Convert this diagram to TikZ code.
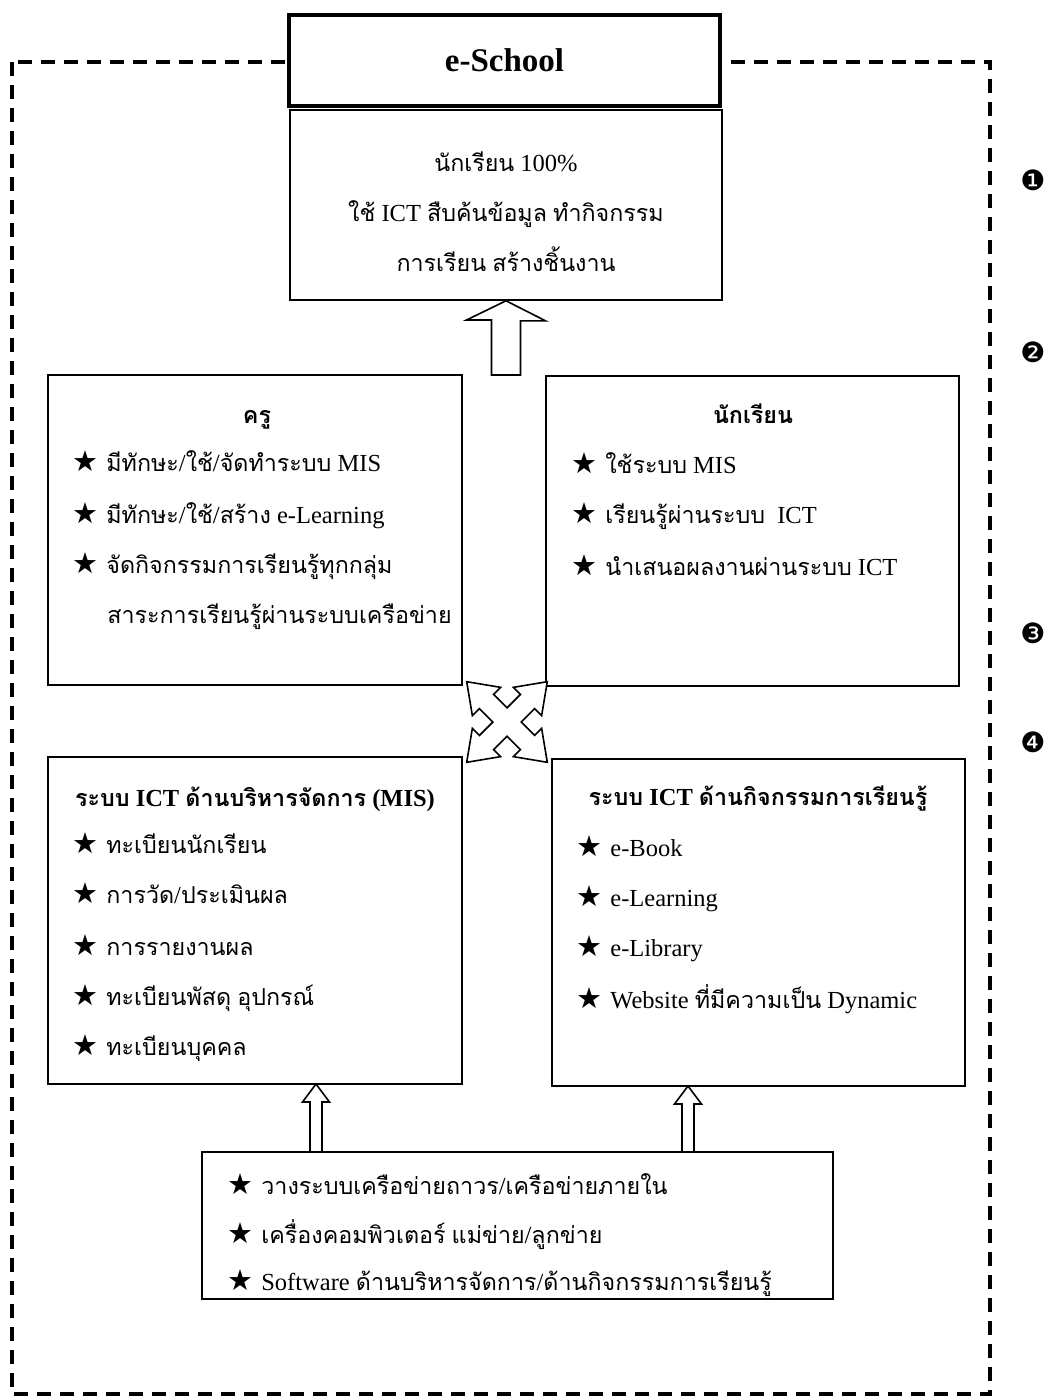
\documentclass[tikz,border=0pt]{standalone}
\usepackage{fontspec}
\setmainfont{Liberation Serif}
\newfontfamily\thaifont[Script=Thai,Scale=0.95]{Loma}
\newfontfamily\symfont{DejaVu Sans}
% Thai letters switch to the Thai family by themselves
\XeTeXinterchartokenstate=1
\newXeTeXintercharclass\thaiclass
\count255="0E00
\loop\ifnum\count255<"0E80
  \XeTeXcharclass\count255=\thaiclass
  \advance\count255 by 1
\repeat
\XeTeXinterchartoks 0 \thaiclass = {\begingroup\thaifont}
\XeTeXinterchartoks 4095 \thaiclass = {\begingroup\thaifont}
\XeTeXinterchartoks \thaiclass 0 = {\endgroup}
\XeTeXinterchartoks \thaiclass 4095 = {\endgroup}
\newcommand{\bstar}{{\symfont\fontsize{29}{30}\selectfont ★}\hspace{8pt}}
\usetikzlibrary{calc}

\tikzset{every picture/.style={line width=0.75pt}}
\tikzset{
  panel/.style={draw, line width=1.6pt, inner sep=0pt},
  hollow/.style={draw, fill=white, line width=1.6pt, line join=miter},
  frame/.style={line width=3.5pt, dash pattern=on 14pt off 9pt},
  title/.style={anchor=base, inner sep=0pt, font=\fontsize{24.5}{30}\selectfont\bfseries},
  line/.style={anchor=base, inner sep=0pt},
  item/.style={anchor=base west, inner sep=0pt},
  num/.style={inner sep=0pt, font=\symfont\fontsize{28}{28}\selectfont}
}

\begin{document}
\begin{tikzpicture}[x=1pt,y=1pt,yscale=-1,xscale=1,font=\fontsize{24.5}{30}\selectfont]
    \useasboundingbox (0,0) rectangle (1048,1398);
    % outer dashed frame
    \draw [frame] (12,62) rectangle (990,1394);
    \node [panel, line width=4.5pt, fill=white, minimum width=431, minimum height=91, font=\bfseries\fontsize{33}{33}\selectfont] (school) at (504.5,60.5) {e-School};
    % boxes
    \node [panel, minimum width=432, minimum height=190] (goal) at (506,205) {};
    \node [panel, minimum width=414, minimum height=310] (teacher) at (255,530) {};
    \node [panel, minimum width=413, minimum height=310] (student) at (752.5,531) {};
    \node [panel, minimum width=414, minimum height=327] (mis) at (255,920.5) {};
    \node [panel, minimum width=413, minimum height=327] (learn) at (758.5,922.5) {};
    \node [panel, minimum width=631, minimum height=147] (infra) at (517.5,1225.5) {};
    % goal
    \draw (506,171) node [line] (goal1) {นักเรียน 100\%};
    \draw (506,221) node [line] (goal2) {ใช้ ICT สืบค้นข้อมูล ทำกิจกรรม};
    \draw (506,271) node [line] (goal3) {การเรียน สร้างชิ้นงาน};
    % teacher
    \draw (257,423) node [title] (teacher0) {ครู};
    \draw (72,471) node [item] (teacher1) {\bstar มีทักษะ/ใช้/จัดทำระบบ MIS};
    \draw (72,523) node [item] (teacher2) {\bstar มีทักษะ/ใช้/สร้าง e-Learning};
    \draw (72,573) node [item] (teacher3) {\bstar จัดกิจกรรมการเรียนรู้ทุกกลุ่ม};
    \draw (107,623) node [item] (teacher4) {สาระการเรียนรู้ผ่านระบบเครือข่าย};
    % student
    \draw (753,423) node [title] (student0) {นักเรียน};
    \draw (571,473) node [item] (student1) {\bstar ใช้ระบบ MIS};
    \draw (571,523) node [item] (student2) {\bstar เรียนรู้ผ่านระบบ \ ICT};
    \draw (571,575) node [item] (student3) {\bstar นำเสนอผลงานผ่านระบบ ICT};
    % mis
    \draw (255,806) node [title] (mis0) {ระบบ ICT ด้านบริหารจัดการ (MIS)};
    \draw (72,853) node [item] (mis1) {\bstar ทะเบียนนักเรียน};
    \draw (72,903) node [item] (mis2) {\bstar การวัด/ประเมินผล};
    \draw (72,955) node [item] (mis3) {\bstar การรายงานผล};
    \draw (72,1005) node [item] (mis4) {\bstar ทะเบียนพัสดุ อุปกรณ์};
    \draw (72,1055) node [item] (mis5) {\bstar ทะเบียนบุคคล};
    % learning
    \draw (758,805) node [title] (learn0) {ระบบ ICT ด้านกิจกรรมการเรียนรู้};
    \draw (576,856) node [item] (learn1) {\bstar e-Book};
    \draw (576,906) node [item] (learn2) {\bstar e-Learning};
    \draw (576,956) node [item] (learn3) {\bstar e-Library};
    \draw (576,1008) node [item] (learn4) {\bstar Website ที่มีความเป็น Dynamic};
    % infrastructure
    \draw (227,1194) node [item] (infra1) {\bstar วางระบบเครือข่ายถาวร/เครือข่ายภายใน};
    \draw (227,1243) node [item] (infra2) {\bstar เครื่องคอมพิวเตอร์ แม่ข่าย/ลูกข่าย};
    \draw (227,1290) node [item] (infra3) {\bstar Software ด้านบริหารจัดการ/ด้านกิจกรรมการเรียนรู้};
    % numbers on the right
    \draw (1033,180) node [num] (n1) {❶};
    \draw (1033,352) node [num] (n2) {❷};
    \draw (1033,633) node [num] (n3) {❸};
    \draw (1033,742) node [num] (n4) {❹};
    % hollow arrows
    \coordinate (upfoot) at (506,375);
    \coordinate (tipL) at (316,1084);
    \coordinate (tipR) at (688,1086);
    \coordinate (cross) at (507,722);
    \draw [hollow] (goal.south) -- ++(39.5,20) -- ++(-25,0) -- ($(upfoot)+(14.5,0)$) -- ($(upfoot)+(-14.5,0)$) -- ++(0,-55) -- ++(-25,0) -- cycle;
    \draw [hollow] (tipL) -- ++(13.5,18) -- ++(-7.5,0) -- ++(0,50) -- ++(-12,0) -- ++(0,-50) -- ++(-7.5,0) -- cycle;
    \draw [hollow] (tipR) -- ++(13.5,18) -- ++(-7.5,0) -- ++(0,48) -- ++(-12,0) -- ++(0,-48) -- ++(-7.5,0) -- cycle;
    \draw [hollow, shift={(cross)}, rotate=45] (57,0) -- (29,20) -- (29,10) -- (10,10) -- (10,29) -- (20,29) -- (0,57) -- (-20,29) -- (-10,29) -- (-10,10) -- (-29,10) -- (-29,20) -- (-57,0) -- (-29,-20) -- (-29,-10) -- (-10,-10) -- (-10,-29) -- (-20,-29) -- (0,-57) -- (20,-29) -- (10,-29) -- (10,-10) -- (29,-10) -- (29,-20) -- cycle;
\end{tikzpicture}
\end{document}
